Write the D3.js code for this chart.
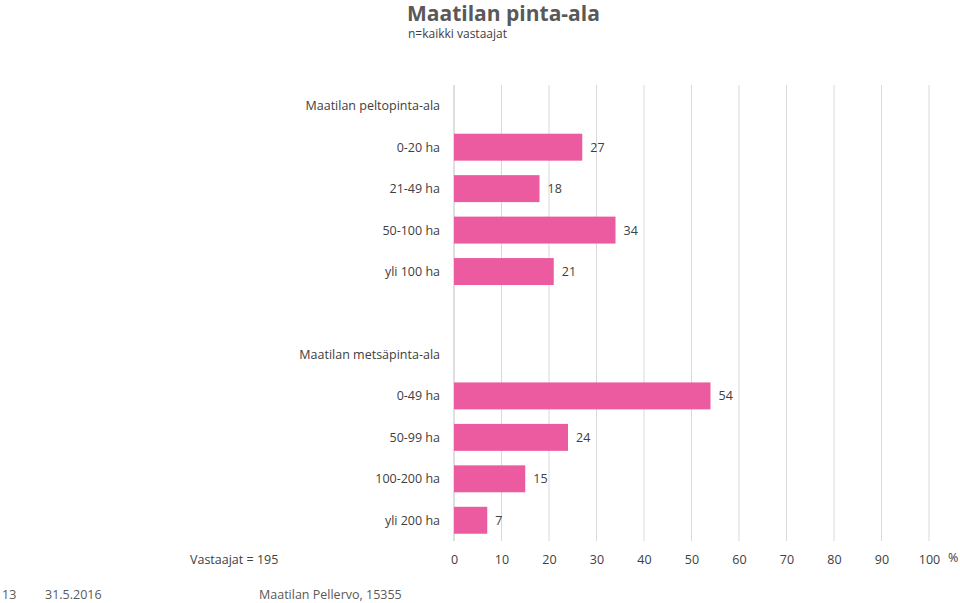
<!DOCTYPE html>
<html><head><meta charset="utf-8">
<script src="https://cdn.jsdelivr.net/npm/d3@7"></script>
<style>body{margin:0;background:#fff;font-family:"Open Sans",sans-serif}</style>
</head><body><svg id="c" width="960" height="603"></svg>
<script>
// rows: headers, blanks and bar categories, top to bottom
const rows = ['Maatilan peltopinta-ala','0-20 ha','21-49 ha','50-100 ha','yli 100 ha','','Maatilan metsäpinta-ala','0-49 ha','50-99 ha','100-200 ha','yli 200 ha'];
const values = [null,27,18,34,21,null,null,54,24,15,7];
const ticks = [0,10,20,30,40,50,60,70,80,90,100];

const svg = d3.select('#c');
const x = d3.scaleLinear().domain([0,100]).range([454,929]);
const y = d3.scaleBand().domain(d3.range(rows.length)).range([85,541]).paddingInner(0.35).paddingOuter(0.175);
const font = "'Open Sans',sans-serif";

// gridlines
svg.append('g').selectAll('line').data(ticks).join('line')
  .attr('x1',d=>x(d)).attr('x2',d=>x(d)).attr('y1',85).attr('y2',541)
  .attr('stroke',d=>d===0?'#bfbfbf':'#d9d9d9').attr('stroke-width',1);

// x axis labels
svg.append('g').attr('transform','translate(0,564)')
  .call(d3.axisBottom(x).tickValues(ticks).tickSize(0).tickPadding(0))
  .call(g=>g.select('.domain').remove())
  .selectAll('text').attr('font-size',12.5).attr('fill','#404040').attr('font-family',font).attr('dy','0');

svg.append('text').attr('x',948).attr('y',562).attr('font-size',12.5).attr('fill','#404040').attr('font-family',font).text('%');

// category labels
svg.append('g').selectAll('text').data(rows).join('text')
  .attr('x',440).attr('y',(d,i)=>y(i)+y.bandwidth()/2+4.5)
  .attr('text-anchor','end').attr('font-size',12.5).attr('fill','#404040').attr('font-family',font)
  .text(d=>d);

const data = values.map((v,i)=>({v,i})).filter(d=>d.v!==null);
svg.append('g').selectAll('rect').data(data).join('rect')
  .attr('x',x(0)).attr('y',d=>y(d.i)).attr('width',d=>x(d.v)-x(0)).attr('height',y.bandwidth())
  .attr('fill','#ec5a9f');
svg.append('g').selectAll('text').data(data).join('text')
  .attr('x',d=>x(d.v)+8).attr('y',d=>y(d.i)+y.bandwidth()/2+4.5)
  .attr('font-size',12.5).attr('fill','#404040').attr('font-family',font).text(d=>d.v);

// titles & footer
svg.append('text').attr('x',407).attr('y',21).attr('font-size',21).attr('font-weight','bold').attr('fill','#595959').attr('font-family',font).text('Maatilan pinta-ala');
svg.append('text').attr('x',408).attr('y',38).attr('font-size',12).attr('fill','#404040').attr('font-family',font).text('n=kaikki vastaajat');
svg.append('text').attr('x',190).attr('y',564).attr('font-size',12.5).attr('fill','#404040').attr('font-family',font).text('Vastaajat = 195');
[['13',2],['31.5.2016',45],['Maatilan Pellervo, 15355',259]].forEach(([t,px])=>
  svg.append('text').attr('x',px).attr('y',599).attr('font-size',12.5).attr('fill','#595959').attr('font-family',font).text(t));
</script></body></html>
